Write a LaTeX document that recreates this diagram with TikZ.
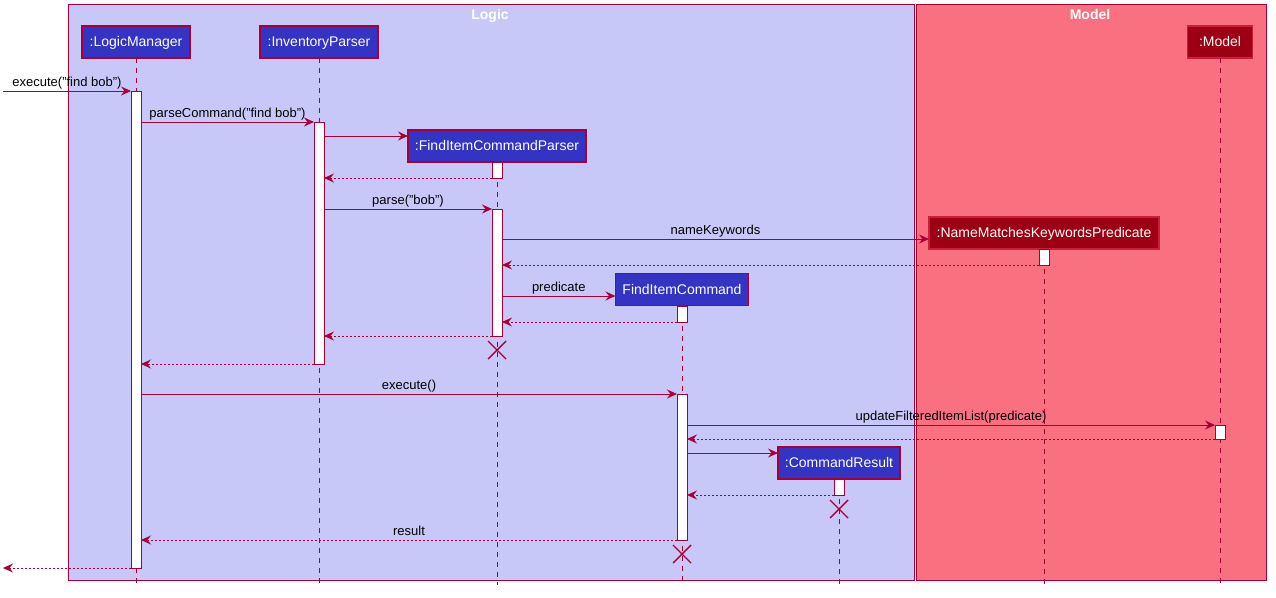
\documentclass[tikz,border=0pt]{standalone}
\usepackage{fontspec}
\setmainfont{Liberation Sans}
\usetikzlibrary{arrows.meta,calc}
\definecolor{lnc}{HTML}{A80036}
\definecolor{logicbg}{HTML}{C8C8F8}
\definecolor{modelbg}{HTML}{F97181}
\definecolor{pblue}{HTML}{3333C4}
\definecolor{pred}{HTML}{9D0012}
\definecolor{predb}{HTML}{C8203C}
\tikzset{
  frameL/.style={draw=lnc, line width=1pt, fill=logicbg},
  frameM/.style={draw=lnc, line width=1pt, fill=modelbg},
  ftitle/.style={text=white, font=\bfseries\fontsize{14}{16}\selectfont, inner sep=0pt, anchor=base},
  partL/.style={draw=lnc, line width=1.3pt, fill=pblue, text=white, font=\fontsize{14}{16}\selectfont,
    minimum height=32pt, inner sep=0pt, outer sep=0pt, text height=9.5pt, text depth=0pt},
  partM/.style={partL, draw=predb, fill=pred},
  lifeline/.style={draw=lnc, line width=0.8pt, dash pattern=on 5pt off 5pt},
  actbar/.style={draw=lnc, fill=white, line width=1pt, minimum width=10pt, inner sep=0pt, outer sep=0pt, anchor=north},
  msg/.style={draw=lnc, line width=0.9pt, -{Stealth[length=10pt,width=9pt,inset=3.5pt]}},
  ret/.style={msg, dash pattern=on 2pt off 2pt},
  lbl/.style={font=\fontsize{13}{15}\selectfont, text=black, inner sep=0pt, anchor=base, yshift=5pt},
  xmark/.style={draw=lnc, line width=1.4pt}
}
\begin{document}
\begin{tikzpicture}[x=1pt,y=-1pt]
\useasboundingbox (0,0) rectangle (1276,597);
% frames
\draw[frameL] (68,4) rectangle (914,580);
\draw[frameM] (916,4) rectangle (1266,580);
\node[ftitle] (tLogic) at (490,19) {Logic};
\node[ftitle] (tModel) at (1090,19) {Model};
% participants
\node[partL, minimum width=108pt] (LM) at (136,42) {:LogicManager};
\node[partL, minimum width=118pt] (IP) at (319,42) {:InventoryParser};
\node[partL, minimum width=178pt] (FCP) at (497,146) {:FindItemCommandParser};
\node[partM, minimum width=230pt] (NMK) at (1044,233) {:NameMatchesKeywordsPredicate};
\node[partL, minimum width=133pt] (FIC) at (682,289.5) {FindItemCommand};
\node[partM, minimum width=65pt] (MD) at (1220,42) {:Model};
\node[partL, minimum width=122pt] (CR) at (839,463) {:CommandResult};
% lifelines
\coordinate (eLM) at (136,585);
\coordinate (eIP) at (319,585);
\coordinate (eFCP) at (497,585);
\coordinate (eNMK) at (1044,585);
\coordinate (eFIC) at (682,585);
\coordinate (eMD) at (1220,585);
\coordinate (eCR) at (839,585);
\draw[lifeline] (LM.south) -- (eLM);
\draw[lifeline] (IP.south) -- (eIP);
\draw[lifeline] (FCP.south) -- (eFCP);
\draw[lifeline] (NMK.south) -- (eNMK);
\draw[lifeline] (FIC.south) -- (eFIC);
\draw[lifeline] (MD.south) -- (eMD);
\draw[lifeline] (CR.south) -- (eCR);
% activation bars
\node[actbar, minimum height=477pt] (aLM) at (136,91) {};
\node[actbar, minimum height=242pt] (aIP) at (319,122) {};
\node[actbar, minimum height=16pt] (aFCP1) at (497,162) {};
\node[actbar, minimum height=127pt] (aFCP2) at (497,209) {};
\node[actbar, minimum height=16pt] (aNMK) at (1044,249) {};
\node[actbar, minimum height=16pt] (aFIC1) at (682,306) {};
\node[actbar, minimum height=146pt] (aFIC2) at (682,394) {};
\node[actbar, minimum height=14pt] (aMD) at (1220,425) {};
\node[actbar, minimum height=16pt] (aCR) at (839,479) {};
% destroy marks
\foreach \n/\xx/\yy in {dFCP/497/350, dCR/839/509, dFIC/682/554}{
  \coordinate (\n) at (\xx,\yy);
  \draw[xmark] ($(\n)+(-9,-9)$) -- ($(\n)+(9,9)$) ($(\n)+(-9,9)$) -- ($(\n)+(9,-9)$);
}
% messages
\coordinate (in) at (3,91);
\coordinate (out) at (3,568);
\draw[msg] (in) -- node[lbl]{execute("find bob")} (aLM.north west);
\draw[msg] (aLM.east |- aIP.north) -- node[lbl]{parseCommand("find bob")} (aIP.north west);
\draw[msg] (aIP.east |- 0,136) -- (FCP.west |- 0,136);
\draw[ret] (aFCP1.south west) -- (aIP.east |- aFCP1.south);
\draw[msg] (aIP.east |- aFCP2.north) -- node[lbl]{parse("bob")} (aFCP2.north west);
\draw[msg] (aFCP2.east |- 0,239) -- node[lbl]{nameKeywords} (NMK.west |- 0,239);
\draw[ret] (aNMK.south west) -- (aFCP2.east |- aNMK.south);
\draw[msg] (aFCP2.east |- 0,296) -- node[lbl]{predicate} (FIC.west |- 0,296);
\draw[ret] (aFIC1.south west) -- (aFCP2.east |- aFIC1.south);
\draw[ret] (aFCP2.south west) -- (aIP.east |- aFCP2.south);
\draw[ret] (aIP.south west) -- (aLM.east |- aIP.south);
\draw[msg] (aLM.east |- aFIC2.north) -- node[lbl]{execute()} (aFIC2.north west);
\draw[msg] (aFIC2.east |- aMD.north) -- node[lbl]{updateFilteredItemList(predicate)} (aMD.north west);
\draw[ret] (aMD.south west) -- (aFIC2.east |- aMD.south);
\draw[msg] (aFIC2.east |- 0,453) -- (CR.west |- 0,453);
\draw[ret] (aCR.south west) -- (aFIC2.east |- aCR.south);
\draw[ret] (aFIC2.south west) -- node[lbl]{result} (aLM.east |- aFIC2.south);
\draw[ret] (aLM.south west) -- (out);
\end{tikzpicture}
\end{document}
